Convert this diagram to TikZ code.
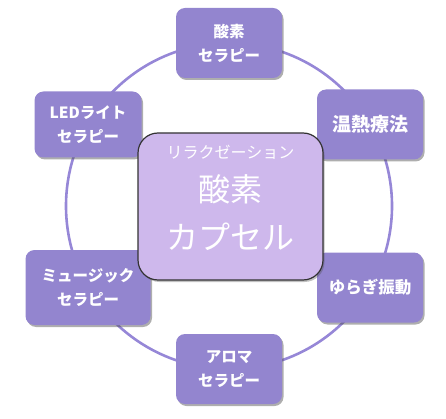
\documentclass[tikz,border=0pt]{standalone}
\usepackage{fontspec}
\setmainfont{Noto Sans CJK JP}
\usetikzlibrary{shadows}
\definecolor{boxpurple}{RGB}{147,133,207}
\definecolor{ringpurple}{RGB}{150,135,215}
\definecolor{corelilac}{RGB}{206,184,236}

\begin{document}
\begin{tikzpicture}[x=1pt, y=-1pt,
	therapy/.style={fill=boxpurple, rounded corners=9pt, text=white, align=center,
		minimum width=106pt, minimum height=70pt, inner sep=2pt,
		font=\bfseries\fontsize{15.5}{24}\selectfont,
		drop shadow={shadow xshift=1.5pt, shadow yshift=-2pt, opacity=0.45, fill=black!70}},
	core/.style={fill=corelilac, draw=black!80, line width=1.2pt, rounded corners=20pt,
		text=white, align=center, minimum width=185pt, minimum height=147pt,
		drop shadow={shadow xshift=1.5pt, shadow yshift=-2pt, opacity=0.35, fill=black!70}}]
	\useasboundingbox (0,0) rectangle (446,419);
	\draw[ringpurple, line width=2.6pt] (229,206) circle (163);
	\draw (229,43) node[therapy](oxygen) {酸素\\セラピー};
	\draw (370,124.5) node[therapy, font=\bfseries\fontsize{19}{24}\selectfont](heat) {温熱療法};
	\draw (370,287.5) node[therapy, font=\bfseries\fontsize{16.5}{24}\selectfont](sway) {ゆらぎ振動};
	\draw (229,369) node[therapy](aroma) {アロマ\\セラピー};
	\draw (88,287.5) node[therapy, minimum width=125pt, minimum height=75pt](music) {ミュージック\\セラピー};
	\draw (88,124.5) node[therapy, minimum width=107pt, minimum height=66pt](led) {LEDライト\\セラピー};
	\draw (230.5,206.5) node[core](capsule) {};
	\draw (230.5,152) node[text=white, font=\fontsize{16}{18}\selectfont](relax) {リラクゼーション};
	\draw (230.5,189) node[text=white, font=\fontsize{32}{36}\selectfont](oxy) {酸素};
	\draw (230.5,237) node[text=white, font=\fontsize{32}{36}\selectfont](caps) {カプセル};
\end{tikzpicture}
\end{document}
